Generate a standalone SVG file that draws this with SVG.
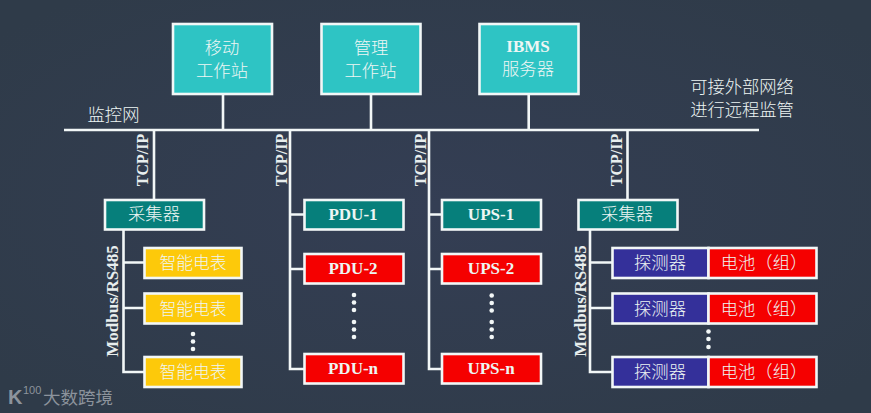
<svg xmlns="http://www.w3.org/2000/svg" width="871" height="413" viewBox="0 0 871 413">
<style>
.c{fill:none;stroke:#f2f7f7;stroke-width:2.6}
.b{stroke:#f2f7f7;stroke-width:2.6}
.t{font-family:"Liberation Serif","Noto Sans CJK SC",serif;text-anchor:middle;fill:#eef6f4}
.cjk{font-family:"Noto Sans CJK SC",sans-serif;font-weight:300;font-size:17.3px}
.met{font-size:16.8px}
.lat{font-weight:bold;font-size:17px}
.side{font-family:"Liberation Serif",serif;font-weight:bold;font-size:16px;fill:#e8eeee;text-anchor:middle}
.mod{font-size:17px}
.teal{fill:#2ec4c4}.dark{fill:#067f7b}.red{fill:#f50000}.yel{fill:#fdc90a}.blue{fill:#34309a}
.d{fill:#f2f7f7}
.wm{fill:#8c939c}
</style>
<defs>
<radialGradient id="bg" cx="50%" cy="50%" r="65%"><stop offset="0" stop-color="#343e54"/><stop offset="1" stop-color="#2f3b49"/></radialGradient>
<circle id="dot" r="2.3" class="d"/>
</defs>
<rect id="background" width="871" height="413" fill="url(#bg)"/>
<g id="connectors">
<path class="c" d="M64 130H759M223 94V130M371 94V130M528.700 94V130M154 130V199M290 130V369H304M290 214.500H304M290 269H304M429 130V369H442M429 214.500H442M429 269H442M627.500 130V199"/>
<path class="c" d="M123.500 230V372H144M123.500 262.500H144M123.500 308H144M590 230V372H612M590 262.500H612M590 308H612"/>
</g>
<g id="node-mobile"><rect class="teal b" x="173" y="24" width="99" height="70"/><text class="t cjk" x="222" y="53.500">移动</text><text class="t cjk" x="222" y="76.500">工作站</text></g>
<g id="node-mgmt"><rect class="teal b" x="321.500" y="24" width="99" height="70"/><text class="t cjk" x="371" y="53.500">管理</text><text class="t cjk" x="370.500" y="76.500">工作站</text></g>
<g id="node-ibms"><rect class="teal b" x="479.500" y="24" width="99" height="70"/><text class="t lat" x="528" y="52">IBMS</text><text class="t cjk" x="528" y="74.500">服务器</text></g>
<g id="labels">
<text class="t cjk" x="113.500" y="120.500">监控网</text>
<text class="t cjk" x="742" y="92.500">可接外部网络</text>
<text class="t cjk" x="742" y="115.500">进行远程监管</text>
<text class="side" transform="translate(148 160) rotate(-90)">TCP/IP</text>
<text class="side" transform="translate(287 160) rotate(-90)">TCP/IP</text>
<text class="side" transform="translate(426 160) rotate(-90)">TCP/IP</text>
<text class="side" transform="translate(622 160) rotate(-90)">TCP/IP</text>
<text class="side mod" transform="translate(118 301) rotate(-90)">Modbus/RS485</text>
<text class="side mod" transform="translate(585.500 301) rotate(-90)">Modbus/RS485</text>
</g>
<g id="node-collector-1"><rect class="dark b" x="105" y="200" width="99" height="29.500"/><text class="t cjk" x="154" y="220">采集器</text></g>
<g id="node-pdu-1"><rect class="dark b" x="304.500" y="200" width="99" height="29.500"/><text class="t lat" x="353" y="220">PDU-1</text></g>
<g id="node-pdu-2"><rect class="red b" x="304.500" y="254" width="99" height="29.500"/><text class="t lat" x="353" y="274">PDU-2</text></g>
<g id="node-pdu-n"><rect class="red b" x="304.500" y="354" width="99" height="29.500"/><text class="t lat" x="353" y="374">PDU-n</text></g>
<g id="node-ups-1"><rect class="dark b" x="442" y="200" width="99" height="29.500"/><text class="t lat" x="491" y="220">UPS-1</text></g>
<g id="node-ups-2"><rect class="red b" x="442" y="254" width="99" height="29.500"/><text class="t lat" x="491" y="274">UPS-2</text></g>
<g id="node-ups-n"><rect class="red b" x="442" y="354" width="99" height="29.500"/><text class="t lat" x="491" y="374">UPS-n</text></g>
<g id="node-collector-2"><rect class="dark b" x="578.500" y="200" width="99" height="29.500"/><text class="t cjk" x="627" y="220">采集器</text></g>
<g id="node-meter-1"><rect class="yel b" x="144.500" y="248" width="97" height="30"/><text class="t cjk met" x="193" y="269">智能电表</text></g>
<g id="node-meter-2"><rect class="yel b" x="144.500" y="293.500" width="97" height="30"/><text class="t cjk met" x="193" y="314.500">智能电表</text></g>
<g id="node-meter-3"><rect class="yel b" x="144.500" y="357" width="97" height="30"/><text class="t cjk met" x="193" y="378">智能电表</text></g>
<g id="node-det-1"><rect class="blue b" x="612.500" y="248" width="96" height="30"/><rect class="red b" x="708.500" y="248" width="108" height="30"/><text class="t cjk" x="660" y="269">探测器</text><text class="t cjk" x="764" y="269">电池（组）</text></g>
<g id="node-det-2"><rect class="blue b" x="612.500" y="293.500" width="96" height="30"/><rect class="red b" x="708.500" y="293.500" width="108" height="30"/><text class="t cjk" x="660" y="314.500">探测器</text><text class="t cjk" x="764" y="314.500">电池（组）</text></g>
<g id="node-det-3"><rect class="blue b" x="612.500" y="357" width="96" height="30"/><rect class="red b" x="708.500" y="357" width="108" height="30"/><text class="t cjk" x="660" y="378">探测器</text><text class="t cjk" x="764" y="378">电池（组）</text></g>
<g id="dots">
<use href="#dot" x="193" y="334"/><use href="#dot" x="193" y="341.500"/><use href="#dot" x="193" y="349"/>
<use href="#dot" x="354" y="295"/><use href="#dot" x="354" y="302.500"/><use href="#dot" x="354" y="310"/><use href="#dot" x="354" y="322"/><use href="#dot" x="354" y="329.500"/><use href="#dot" x="354" y="337"/>
<use href="#dot" x="491.700" y="295.500"/><use href="#dot" x="491.700" y="303"/><use href="#dot" x="491.700" y="310.500"/><use href="#dot" x="491.700" y="322"/><use href="#dot" x="491.700" y="329.500"/><use href="#dot" x="491.700" y="337"/>
<use href="#dot" x="708.500" y="331.500"/><use href="#dot" x="708.500" y="339"/><use href="#dot" x="708.500" y="347"/>
</g>
<g id="watermark"><text class="wm" x="8" y="404" font-family="'Liberation Sans',sans-serif" font-weight="bold" font-size="20">K</text><text class="wm" x="23" y="394" font-family="'Liberation Sans',sans-serif" font-size="11">100</text><text class="wm" x="43" y="403.500" font-family="'Noto Sans CJK SC',sans-serif" font-size="17.500">大数跨境</text></g>
</svg>
